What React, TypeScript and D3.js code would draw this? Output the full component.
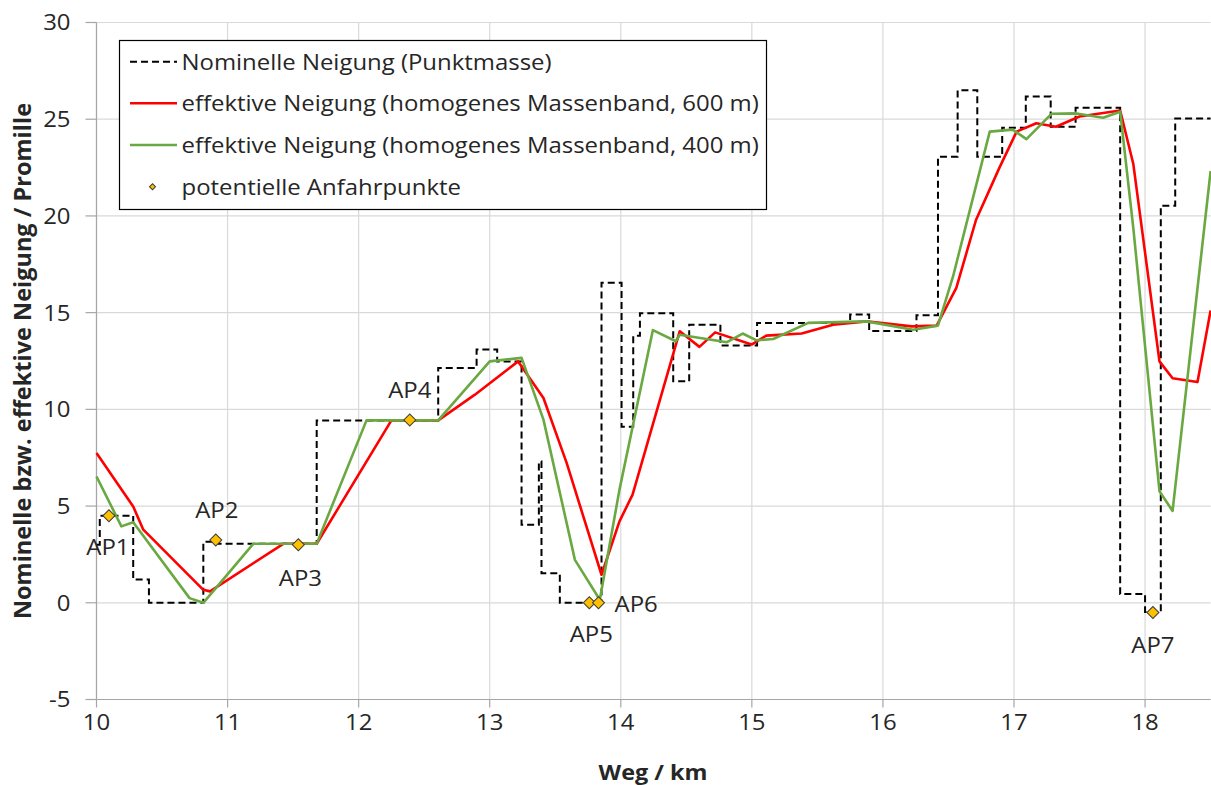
import React from 'react';
import * as d3 from 'd3';

// nominal gradient (step function, value holds until next km)
const nominalKm = [10.0, 10.025, 10.28, 10.40, 10.815, 10.93, 11.68, 12.607, 12.90, 13.057, 13.243, 13.375, 13.395, 13.535, 13.853, 14.006, 14.095, 14.146, 14.40, 14.522, 14.76, 15.04, 15.75, 15.895, 16.256, 16.42, 16.57, 16.72, 16.91, 17.09, 17.28, 17.47, 17.81, 18.0, 18.12, 18.23, 18.5];
const nominalVal = [3.0, 4.5, 1.2, 0.0, 3.15, 3.05, 9.43, 12.14, 13.09, 12.48, 4.03, 7.3, 1.53, 0.0, 16.54, 9.1, 13.8, 14.97, 11.45, 14.38, 13.3, 14.47, 14.9, 14.05, 14.86, 23.06, 26.5, 23.06, 24.56, 26.17, 24.61, 25.59, 0.45, -0.47, 20.53, 25.04, 25.04];

// effective gradient, mass band 600 m
const redKm = [10.0, 10.28, 10.357, 10.815, 10.866, 11.425, 11.68, 12.25, 12.607, 12.887, 13.217, 13.41, 13.587, 13.853, 13.99, 14.09, 14.45, 14.60, 14.72, 14.998, 15.11, 15.38, 15.62, 15.875, 16.22, 16.41, 16.56, 16.71, 16.89, 17.02, 17.17, 17.32, 17.5, 17.81, 17.91, 18.11, 18.21, 18.40, 18.5];
const redVal = [7.74, 4.98, 3.78, 0.67, 0.59, 3.05, 3.05, 9.43, 9.43, 10.76, 12.48, 10.59, 7.23, 1.45, 4.21, 5.59, 14.04, 13.23, 13.98, 13.35, 13.81, 13.92, 14.38, 14.55, 14.29, 14.33, 16.28, 19.79, 22.51, 24.36, 24.79, 24.61, 25.14, 25.45, 22.7, 12.48, 11.61, 11.41, 15.11];

// effective gradient, mass band 400 m
const greenKm = [10.0, 10.19, 10.28, 10.71, 10.815, 11.196, 11.68, 12.06, 12.607, 13.0, 13.243, 13.41, 13.65, 13.84, 13.99, 14.245, 14.42, 14.45, 14.81, 14.93, 15.036, 15.163, 15.43, 15.875, 16.23, 16.42, 16.535, 16.815, 16.99, 17.095, 17.286, 17.477, 17.68, 17.81, 17.91, 18.11, 18.21, 18.5];
const greenVal = [6.53, 3.95, 4.16, 0.24, 0.0, 3.05, 3.05, 9.43, 9.43, 12.48, 12.66, 9.47, 2.22, 0.16, 5.85, 14.1, 13.52, 13.86, 13.47, 13.92, 13.57, 13.64, 14.47, 14.55, 14.12, 14.33, 16.87, 24.36, 24.46, 23.97, 25.28, 25.3, 25.08, 25.39, 19.4, 5.77, 4.75, 22.32];

// potential starting points
const apNames = ['AP1', 'AP2', 'AP3', 'AP4', 'AP5', 'AP6', 'AP7'];
const apKm = [10.095, 10.91, 11.54, 12.39, 13.76, 13.83, 18.06];
const apVal = [4.5, 3.25, 3.0, 9.45, 0.0, 0.0, -0.5];

const xTicks = [10, 11, 12, 13, 14, 15, 16, 17, 18];
const yTicks = [-5, 0, 5, 10, 15, 20, 25, 30];

const legendLabels = [
  'Nominelle Neigung (Punktmasse)',
  'effektive Neigung (homogenes Massenband, 600 m)',
  'effektive Neigung (homogenes Massenband, 400 m)',
  'potentielle Anfahrpunkte',
];

const W = 1211;
const H = 785;
const FONT = '"Open Sans", "DejaVu Sans", sans-serif';
const RED = '#ff0000';
const GREEN = '#6aa842';
const GRID = '#d9d9d9';
const AXIS = '#a6a6a6';
const TEXT = '#262626';
const STRETCH = 1.14; // the source image text is a bit wider than it is tall

// label placement relative to marker (dx, dy, anchor)
const apLabelPos: [number, number, string][] = [
  [-1, 31, 'middle'],
  [1, -30, 'middle'],
  [2, 33, 'middle'],
  [0, -30, 'middle'],
  [2, 31, 'middle'],
  [16, 1, 'start'],
  [0, 33, 'middle'],
];

type LabelProps = {
  x: number;
  y: number;
  anchor?: string;
  size?: number;
  bold?: boolean;
  children: React.ReactNode;
};

const Label = ({ x, y, anchor = 'start', size = 21, bold = false, children }: LabelProps) => (
  <text
    transform={`translate(${x},${y}) scale(${STRETCH},1)`}
    textAnchor={anchor as any}
    dominantBaseline="central"
    fontSize={size}
    fontWeight={bold ? 'bold' : 'normal'}
    fill={TEXT}
  >
    {children}
  </text>
);

export default function App() {
  const x = d3.scaleLinear().domain([10, 18.5]).range([96.5, 1210.6]);
  const y = d3.scaleLinear().domain([-5, 30]).range([699.5, 22.5]);

  const toPts = (ks: number[], vs: number[]) => ks.map((k, i) => [k, vs[i]] as [number, number]);
  const line = d3.line<[number, number]>().x(d => x(d[0])).y(d => y(d[1]));
  const stepLine = d3.line<[number, number]>().x(d => x(d[0])).y(d => y(d[1])).curve(d3.curveStepAfter);
  const diamond = d3.symbol(d3.symbolSquare, 72)();
  const smallDiamond = d3.symbol(d3.symbolSquare, 18)();

  const legendRows = [61.7, 103.3, 145, 186.7];

  return (
    <svg width={W} height={H} style={{ position: 'absolute', left: 0, top: 0, background: '#fff' }}
      fontFamily={FONT}>
      {/* gridlines */}
      {yTicks.map(t => (
        <line key={'gy' + t} x1={x(10)} x2={x(18.5)} y1={y(t)} y2={y(t)} stroke={GRID} strokeWidth={1.2} />
      ))}
      {xTicks.map(t => (
        <line key={'gx' + t} x1={x(t)} x2={x(t)} y1={y(30)} y2={y(-5)} stroke={GRID} strokeWidth={1.2} />
      ))}

      {/* axes */}
      <line x1={x(10)} x2={x(10)} y1={y(30)} y2={y(-5)} stroke={AXIS} strokeWidth={1.2} />
      <line x1={x(10)} x2={x(18.5)} y1={y(-5)} y2={y(-5)} stroke={AXIS} strokeWidth={1.2} />
      {yTicks.map(t => (
        <g key={'ty' + t}>
          <line x1={x(10) - 11} x2={x(10)} y1={y(t)} y2={y(t)} stroke={AXIS} strokeWidth={1.2} />
          <Label x={x(10) - 26} y={y(t)} anchor="end">{t}</Label>
        </g>
      ))}
      {xTicks.map(t => (
        <g key={'tx' + t}>
          <line x1={x(t)} x2={x(t)} y1={y(-5)} y2={y(-5) + 8} stroke={AXIS} strokeWidth={1.2} />
          <Label x={x(t)} y={y(-5) + 23} anchor="middle">{t}</Label>
        </g>
      ))}

      {/* axis titles */}
      <Label x={653} y={772} anchor="middle" size={20.5} bold>Weg / km</Label>
      <text transform={`translate(22,${y(12.5)}) rotate(-90)`} textAnchor="middle" dominantBaseline="central"
        fontSize={23.5} fontWeight="bold" fill={TEXT}>
        Nominelle bzw. effektive Neigung / Promille
      </text>

      {/* series */}
      <path d={stepLine(toPts(nominalKm, nominalVal)) || ''} fill="none" stroke="#000" strokeWidth={2}
        strokeDasharray="7,4" />
      <path d={line(toPts(redKm, redVal)) || ''} fill="none" stroke={RED} strokeWidth={2.6} strokeLinejoin="round" />
      <path d={line(toPts(greenKm, greenVal)) || ''} fill="none" stroke={GREEN} strokeWidth={2.6} strokeLinejoin="round" />

      {/* starting points */}
      {apNames.map((n, i) => {
        const px = x(apKm[i]);
        const py = y(apVal[i]);
        const [dx, dy, anchor] = apLabelPos[i];
        return (
          <g key={n}>
            <path d={diamond || ''} transform={`translate(${px},${py}) rotate(45)`} fill="#ffc000"
              stroke="#3b3b3b" strokeWidth={1} />
            <Label x={px + dx} y={py + dy} anchor={anchor}>{n}</Label>
          </g>
        );
      })}

      {/* legend */}
      <rect x={119.5} y={40.5} width={647} height={169} fill="#fff" stroke="#000" strokeWidth={1.2} />
      <line x1={130} x2={177} y1={legendRows[0]} y2={legendRows[0]} stroke="#000" strokeWidth={2} strokeDasharray="7,4" />
      <line x1={130} x2={177} y1={legendRows[1]} y2={legendRows[1]} stroke={RED} strokeWidth={2.6} />
      <line x1={130} x2={177} y1={legendRows[2]} y2={legendRows[2]} stroke={GREEN} strokeWidth={2.6} />
      <path d={smallDiamond || ''} transform={`translate(152.5,${legendRows[3]}) rotate(45)`} fill="#ffc000"
        stroke="#3b3b3b" strokeWidth={1} />
      {legendLabels.map((l, i) => (
        <Label key={l} x={181.5} y={legendRows[i]}>{l}</Label>
      ))}
    </svg>
  );
}
